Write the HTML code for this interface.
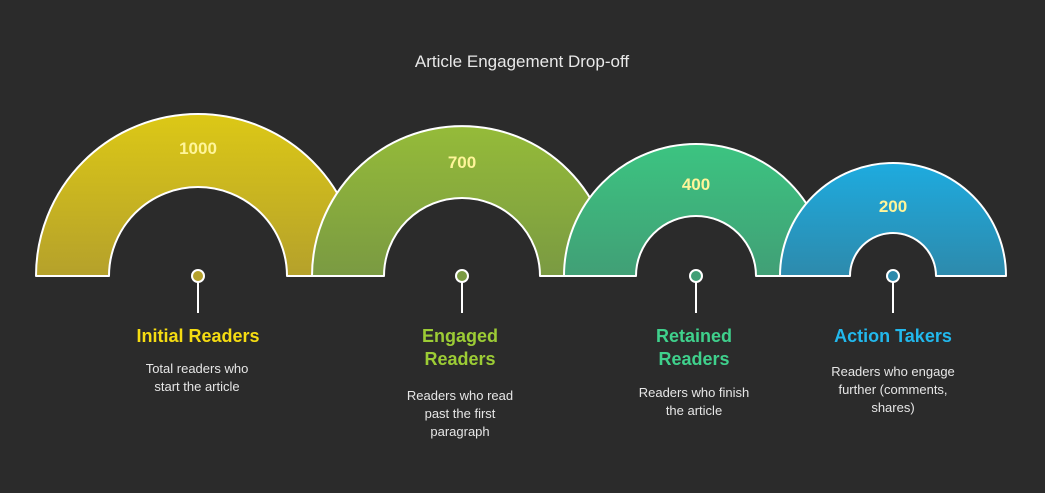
<!DOCTYPE html>
<html><head><meta charset="utf-8"><style>
html,body{margin:0;padding:0;background:#2b2b2b;}
svg{display:block;font-family:"Liberation Sans",sans-serif;}
</style></head><body>
<svg width="1045" height="493" viewBox="0 0 1045 493">
<defs>
<linearGradient id="g1" x1="0" y1="0" x2="0" y2="1"><stop offset="0" stop-color="#dcc816"/><stop offset="1" stop-color="#b5a12b"/></linearGradient>
<linearGradient id="g2" x1="0" y1="0" x2="0" y2="1"><stop offset="0" stop-color="#95bb39"/><stop offset="1" stop-color="#7a9a42"/></linearGradient>
<linearGradient id="g3" x1="0" y1="0" x2="0" y2="1"><stop offset="0" stop-color="#3cc481"/><stop offset="1" stop-color="#419f76"/></linearGradient>
<linearGradient id="g4" x1="0" y1="0" x2="0" y2="1"><stop offset="0" stop-color="#1eabdf"/><stop offset="1" stop-color="#2d8aac"/></linearGradient>
</defs>
<rect width="1045" height="493" fill="#2b2b2b"/>
<text x="522" y="67" text-anchor="middle" fill="#e8e8e8" font-size="17">Article Engagement Drop-off</text>
<g stroke="#fff" stroke-width="2" stroke-linejoin="round">
<path d="M36,276 A162,162 0 0 1 360,276 L287,276 A89,89 0 0 0 109,276 Z" fill="url(#g1)"/>
<path d="M312,276 A150,150 0 0 1 612,276 L540,276 A78,78 0 0 0 384,276 Z" fill="url(#g2)"/>
<path d="M564,276 A132,132 0 0 1 828,276 L756,276 A60,60 0 0 0 636,276 Z" fill="url(#g3)"/>
<path d="M780,276 A113,113 0 0 1 1006,276 L936,276 A43,43 0 0 0 850,276 Z" fill="url(#g4)"/>
</g>
<g fill="#fff59a" font-weight="bold" font-size="17" text-anchor="middle">
<text x="198" y="154">1000</text>
<text x="462" y="168">700</text>
<text x="696" y="190">400</text>
<text x="893" y="212">200</text>
</g>
<g stroke="#fff" stroke-width="2">
<line x1="198" y1="282" x2="198" y2="313"/><circle cx="198" cy="276" r="6" fill="#b5a12b"/>
<line x1="462" y1="282" x2="462" y2="313"/><circle cx="462" cy="276" r="6" fill="#7a9a42"/>
<line x1="696" y1="282" x2="696" y2="313"/><circle cx="696" cy="276" r="6" fill="#419f76"/>
<line x1="893" y1="282" x2="893" y2="313"/><circle cx="893" cy="276" r="6" fill="#2d8aac"/>
</g>
<g font-weight="bold" font-size="18" text-anchor="middle">
<text x="198" y="342" fill="#f5dc12">Initial Readers</text>
<text x="460" y="342" fill="#9ccc35">Engaged</text>
<text x="460" y="365" fill="#9ccc35">Readers</text>
<text x="694" y="342" fill="#3fd08c">Retained</text>
<text x="694" y="365" fill="#3fd08c">Readers</text>
<text x="893" y="342" fill="#22b8ec">Action Takers</text>
</g>
<g fill="#e6e6e6" font-size="13" text-anchor="middle">
<text x="197" y="373">Total readers who</text>
<text x="197" y="391">start the article</text>
<text x="460" y="400">Readers who read</text>
<text x="460" y="418">past the first</text>
<text x="460" y="436">paragraph</text>
<text x="694" y="397">Readers who finish</text>
<text x="694" y="415">the article</text>
<text x="893" y="376">Readers who engage</text>
<text x="893" y="394">further (comments,</text>
<text x="893" y="412">shares)</text>
</g>
</svg>
</body></html>
